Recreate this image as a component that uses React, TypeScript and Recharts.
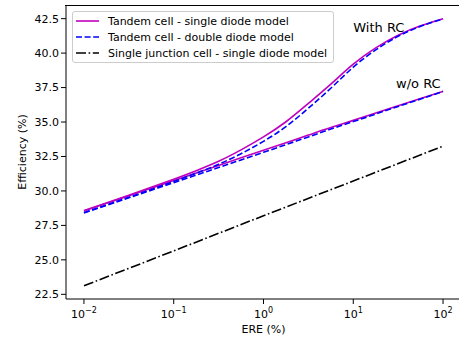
import { LineChart, Line, XAxis, YAxis, ReferenceDot } from 'recharts';

// ERE grid (%), quarter-decade steps
const ereGrid = [0.01, 0.0178, 0.0316, 0.0562, 0.1, 0.178, 0.316, 0.562, 1, 1.78, 3.16, 5.62, 10, 17.8, 31.6, 56.2, 100];

const tandemSingleRC = [28.58, 29.13, 29.69, 30.26, 30.85, 31.47, 32.15, 32.98, 33.92, 35.02, 36.35, 37.75, 39.2, 40.38, 41.3, 41.98, 42.5];
const tandemDoubleRC = [28.43, 28.98, 29.54, 30.11, 30.69, 31.29, 31.93, 32.7, 33.6, 34.67, 36.0, 37.45, 38.98, 40.23, 41.22, 41.94, 42.48];
const tandemSingleNoRC = [28.55, 29.1, 29.65, 30.2, 30.75, 31.3, 31.85, 32.4, 32.95, 33.5, 34.05, 34.6, 35.12, 35.65, 36.18, 36.7, 37.23];
const tandemDoubleNoRC = [28.4, 28.95, 29.5, 30.05, 30.6, 31.15, 31.7, 32.25, 32.8, 33.36, 33.92, 34.49, 35.03, 35.58, 36.13, 36.67, 37.21];

const sjEre = [0.01, 0.1, 1, 10, 100];
const sjSingle = [23.12, 25.65, 28.2, 30.72, 33.25];

const xTicks = [0.01, 0.1, 1, 10, 100];
const xTickExp = ['\u22122', '\u22121', '0', '1', '2'];
const xMinor = [0.007, 0.008, 0.009, 0.02, 0.03, 0.04, 0.05, 0.06, 0.07, 0.08, 0.09, 0.2, 0.3, 0.4, 0.5, 0.6, 0.7, 0.8, 0.9, 2, 3, 4, 5, 6, 7, 8, 9, 20, 30, 40, 50, 60, 70, 80, 90];
const yTicks = [22.5, 25, 27.5, 30, 32.5, 35, 37.5, 40, 42.5];

const mk = (xs: number[], ys: number[]) => xs.map((x, i) => ({ x, y: ys[i] }));

const FONT = 'DejaVu Sans, sans-serif';
const X_DOMAIN = [0.00631, 158.5];
const Y_DOMAIN = [22.16, 43.49];

const legendItems = [
  { label: 'Tandem cell - single diode model', color: '#bf00bf', dash: undefined },
  { label: 'Tandem cell - double diode model', color: '#0000ff', dash: '6 2.6' },
  { label: 'Single junction cell - single diode model', color: '#000000', dash: '10 2.6 1.6 2.6' },
];

function LegendBox() {
  return (
    <div
      style={{
        position: 'absolute',
        left: 72,
        top: 11,
        border: '1px solid #cccccc',
        borderRadius: 3,
        background: 'rgba(255,255,255,0.8)',
        padding: '1px 6px 1px 3px',
        fontFamily: FONT,
        fontSize: 11,
        color: '#000',
      }}
    >
      {legendItems.map((it) => (
        <div key={it.label} style={{ display: 'flex', alignItems: 'center', height: 16 }}>
          <svg width={32} height={10}>
            <line x1={0} y1={5} x2={23} y2={5} stroke={it.color} strokeWidth={1.6} strokeDasharray={it.dash} />
          </svg>
          <span style={{ whiteSpace: 'nowrap' }}>{it.label}</span>
        </div>
      ))}
    </div>
  );
}

const XTick = (props: any) => {
  const { x, y, index } = props;
  return (
    <text x={x} y={y + 12} textAnchor="middle" fontFamily={FONT} fontSize={11} fill="#000">
      <tspan>10</tspan>
      <tspan dy={-5} fontSize={8}>{xTickExp[index]}</tspan>
    </text>
  );
};

export default function App() {
  return (
    <div style={{ position: 'absolute', left: 0, top: 0, width: 470, height: 339, background: '#fff' }}>
      <LineChart width={462} height={339} margin={{ top: 5, right: 1, bottom: 0, left: 0 }}>
        <XAxis
          xAxisId="minor"
          dataKey="x"
          type="number"
          scale="log"
          domain={X_DOMAIN}
          allowDataOverflow
          ticks={xMinor}
          height={0}
          axisLine={false}
          tickSize={3}
          tickLine={{ stroke: '#000', strokeWidth: 0.8 }}
          tick={() => <g />}
        />
        <XAxis
          dataKey="x"
          type="number"
          scale="log"
          domain={X_DOMAIN}
          allowDataOverflow
          ticks={xTicks}
          height={40}
          axisLine={{ stroke: '#000', strokeWidth: 1 }}
          tickSize={5}
          tickLine={{ stroke: '#000', strokeWidth: 1 }}
          tick={<XTick />}
          label={{ value: 'ERE (%)', position: 'insideBottom', offset: 6, fontFamily: FONT, fontSize: 11, fill: '#000' }}
        />
        <YAxis
          type="number"
          domain={Y_DOMAIN}
          allowDataOverflow
          ticks={yTicks}
          width={66}
          tickSize={5}
          tickMargin={2}
          axisLine={{ stroke: '#000', strokeWidth: 1 }}
          tickLine={{ stroke: '#000', strokeWidth: 1 }}
          tick={{ fontFamily: FONT, fontSize: 11, fill: '#000' }}
          tickFormatter={(v: number) => v.toFixed(1)}
          label={{ value: 'Efficiency (%)', angle: -90, position: 'insideLeft', offset: 22, style: { textAnchor: 'middle' }, fontFamily: FONT, fontSize: 11, fill: '#000' }}
        />
        <Line data={mk(ereGrid, tandemSingleRC)} dataKey="y" type="natural" stroke="#bf00bf" strokeWidth={1.6} dot={false} isAnimationActive={false} />
        <Line data={mk(ereGrid, tandemSingleNoRC)} dataKey="y" type="natural" stroke="#bf00bf" strokeWidth={1.6} dot={false} isAnimationActive={false} />
        <Line data={mk(ereGrid, tandemDoubleRC)} dataKey="y" type="natural" stroke="#0000ff" strokeWidth={1.6} strokeDasharray="6 2.6" dot={false} isAnimationActive={false} />
        <Line data={mk(ereGrid, tandemDoubleNoRC)} dataKey="y" type="natural" stroke="#0000ff" strokeWidth={1.6} strokeDasharray="6 2.6" dot={false} isAnimationActive={false} />
        <Line data={mk(sjEre, sjSingle)} dataKey="y" type="linear" stroke="#000" strokeWidth={1.6} strokeDasharray="10 2.6 1.6 2.6" dot={false} isAnimationActive={false} />
        <ReferenceDot
          x={10}
          y={41.5}
          r={0}
          shape={(p: any) => (
            <text x={p.cx} y={p.cy} fontFamily={FONT} fontSize={13} fill="#000">With RC</text>
          )}
        />
        <ReferenceDot
          x={30}
          y={37.5}
          r={0}
          shape={(p: any) => (
            <text x={p.cx} y={p.cy} fontFamily={FONT} fontSize={13} fill="#000">w/o RC</text>
          )}
        />
      </LineChart>
      {/* top spine of the axes frame */}
      <div style={{ position: 'absolute', left: 65, top: 5, width: 400, height: 1, background: '#000', zIndex: 10 }} />
      <LegendBox />
    </div>
  );
}
